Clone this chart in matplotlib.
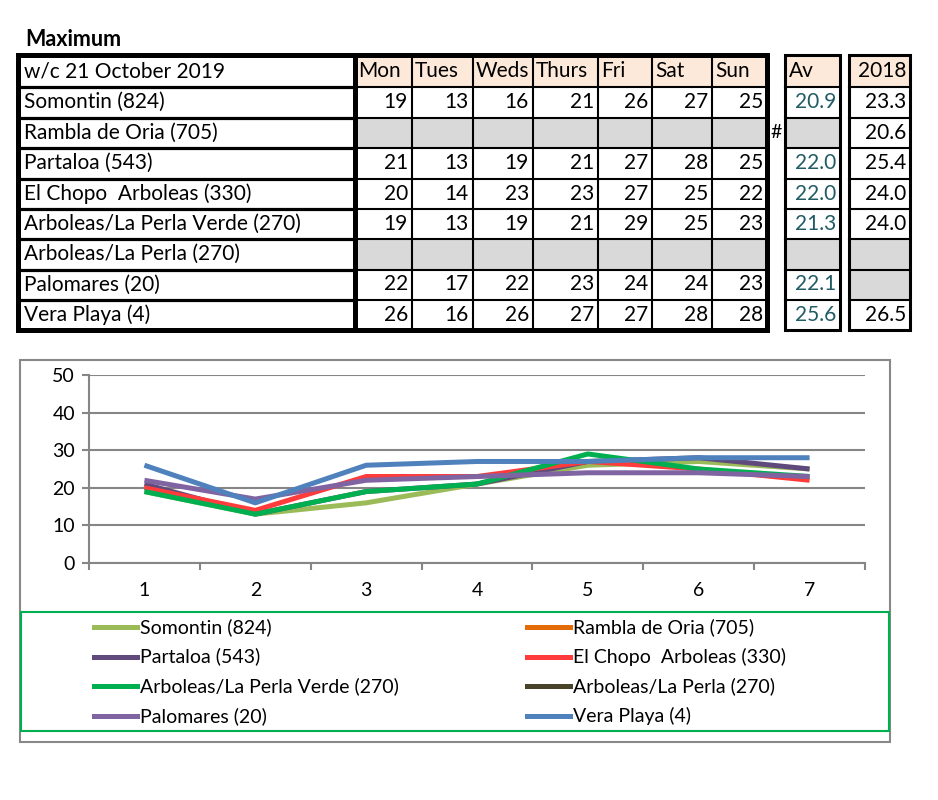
import numpy as np
import matplotlib
matplotlib.use('Agg')
import matplotlib.pyplot as plt
from matplotlib.patches import Rectangle
from matplotlib.lines import Line2D

title = 'Maximum'
week = 'w/c 21 October 2019'
days = ['Mon','Tues','Weds','Thurs','Fri','Sat','Sun']
stations = ['Somontin (824)','Rambla de Oria (705)','Partaloa (543)','El Chopo  Arboleas (330)',
            'Arboleas/La Perla Verde (270)','Arboleas/La Perla (270)','Palomares (20)','Vera Playa (4)']
somontin = [19,13,16,21,26,27,25]
rambla = [None]*7
partaloa = [21,13,19,21,27,28,25]
chopo = [20,14,23,23,27,25,22]
perla_verde = [19,13,19,21,29,25,23]
perla = [None]*7
palomares = [22,17,22,23,24,24,23]
vera = [26,16,26,27,27,28,28]
av = [20.9,None,22.0,22.0,21.3,None,22.1,25.6]
y2018 = [23.3,20.6,25.4,24.0,24.0,None,None,26.5]
series = [somontin,rambla,partaloa,chopo,perla_verde,perla,palomares,vera]
colors = ['#9BBB59','#E36C09','#604A7B','#FF3B3B','#00B050','#494429','#8064A2','#4F81BD']
xcat = np.arange(1,8)

tfont = ['Lato','DejaVu Sans']
peach = '#FDE9D9'
grey = '#D9D9D9'

fig = plt.figure(figsize=(9.38,8.0),dpi=100)
bg = fig.add_axes([0,0,1,1])
bg.set_xlim(0,938)
bg.set_ylim(800,0)
bg.axis('off')

def box(x0,y0,x1,y1,fc='none',ec='none',lw=0):
 bg.add_patch(Rectangle((x0,y0),x1-x0,y1-y0,facecolor=fc,edgecolor=ec,linewidth=lw))

#Table geometry (pixels)
col_x = [18,355,412,473,533,598,652,712,767]
row_y = [55,87,117.5,148,178.5,209,239,269.5,299.5,330]
av_x = [785,840]
yr_x = [849,910]

bg.text(25,40,title,fontsize=15.5,fontweight='bold',family=tfont,va='center',ha='left')

#Fills
for j in range(7):
 box(col_x[j+1],row_y[0],col_x[j+2],row_y[1],fc=peach)
box(av_x[0],row_y[0],av_x[1],row_y[1],fc=peach)
box(yr_x[0],row_y[0],yr_x[1],row_y[1],fc=peach)
for i in range(8):
 for j in range(7):
  if series[i][j] is None:box(col_x[j+1],row_y[i+1],col_x[j+2],row_y[i+2],fc=grey)
 if av[i] is None:box(av_x[0],row_y[i+1],av_x[1],row_y[i+2],fc=grey)
 if y2018[i] is None:box(yr_x[0],row_y[i+1],yr_x[1],row_y[i+2],fc=grey)

#Grid lines of the table
for y in row_y[1:-1]:
 bg.plot([col_x[1],col_x[-1]],[y,y],color='black',lw=1.5)
 bg.plot([col_x[0],col_x[1]],[y,y],color='black',lw=2.3)
 for xs in [av_x,yr_x]:
  bg.plot(xs,[y,y],color='black',lw=1.5)
for x in col_x[2:-1]:
 bg.plot([x,x],[row_y[0],row_y[-1]],color='black',lw=1.5)
bg.plot([col_x[1],col_x[1]],[row_y[0],row_y[-1]],color='black',lw=3.6)
box(col_x[0],row_y[0],col_x[-1],row_y[-1],ec='black',lw=3.6)
box(av_x[0],row_y[0],av_x[1],row_y[-1],ec='black',lw=2.2)
box(yr_x[0],row_y[0],yr_x[1],row_y[-1],ec='black',lw=2.2)

#Table text
fs = 15
bg.text(col_x[0]+6,(row_y[0]+row_y[1])/2,week,fontsize=fs,family=tfont,va='center')
for j in range(7):
 bg.text(col_x[j+1]+3,(row_y[0]+row_y[1])/2,days[j],fontsize=fs,family=tfont,va='center')
bg.text(av_x[0]+4,(row_y[0]+row_y[1])/2,'Av',fontsize=fs,family=tfont,va='center')
bg.text(yr_x[1]-4,(row_y[0]+row_y[1])/2,'2018',fontsize=fs,family=tfont,va='center',ha='right')
for i in range(8):
 yc = (row_y[i+1]+row_y[i+2])/2
 bg.text(col_x[0]+6,yc,stations[i],fontsize=fs,family=tfont,va='center')
 for j in range(7):
  if series[i][j] is not None:
   bg.text(col_x[j+2]-4,yc,'%d' % series[i][j],fontsize=fs,family=tfont,va='center',ha='right')
 if av[i] is not None:
  bg.text(av_x[1]-4,yc,'%.1f' % av[i],fontsize=fs,family=tfont,va='center',ha='right',color='#215B63')
 if y2018[i] is not None:
  bg.text(yr_x[1]-4,yc,'%.1f' % y2018[i],fontsize=fs,family=tfont,va='center',ha='right')
bg.text(770,(row_y[2]+row_y[3])/2,'#',fontsize=fs-1,family=tfont,va='center')

#Chart frame and legend frame
box(20,360,890,742,ec='#888888',lw=1.5)
box(21,612,889,731,ec='#00B050',lw=1.5)

#Line chart
ax = fig.add_axes([89/938,(800-563)/800,776/938,188/800])
ax.patch.set_alpha(0)
for s,c,name in zip(series,colors,stations):
 yv = np.array([np.nan if v is None else v for v in s],dtype=float)
 ax.plot(xcat,yv,color=c,lw=3.6,label=name,solid_capstyle='butt')
ax.set_xlim(0.5,7.5)
ax.set_ylim(0,50)
ax.set_yticks(range(0,51,10))
ax.set_xticks(xcat)
ax.set_xticks(np.arange(0.5,8,1),minor=True)
ax.yaxis.grid(True,color='#868686',lw=1.5)
ax.set_axisbelow(True)
for sp in ['top','right']:
 ax.spines[sp].set_visible(False)
for sp in ['left','bottom']:
 ax.spines[sp].set_color('#868686')
 ax.spines[sp].set_linewidth(1.5)
ax.tick_params(axis='x',which='major',length=0,pad=14,labelsize=14)
ax.tick_params(axis='x',which='minor',length=5,width=1.5,color='#868686')
ax.tick_params(axis='y',length=5,width=1.5,color='#868686',labelsize=14,pad=5)
for lab in ax.get_xticklabels()+ax.get_yticklabels():
 lab.set_family(tfont)

#Legend, row-wise in two columns
for i,(c,name) in enumerate(zip(colors,stations)):
 lx = [94,527][i%2]
 ly = 627+(i//2)*29.7
 bg.add_line(Line2D([lx,lx+43],[ly,ly],color=c,lw=3.6))
 bg.text(lx+46,ly,name,fontsize=14,family=tfont,va='center')

fig.savefig('out.png',dpi=100)
